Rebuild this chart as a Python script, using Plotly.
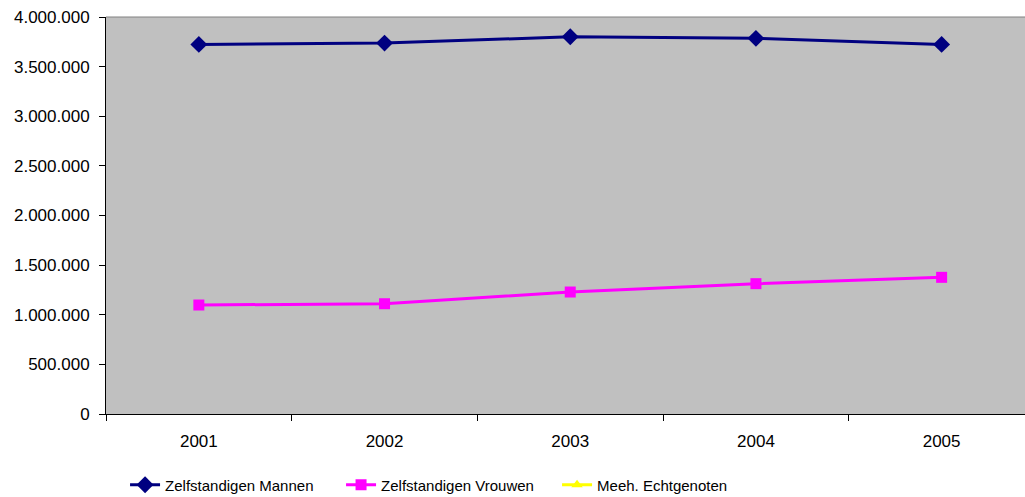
import plotly.graph_objects as go

years = ["2001", "2002", "2003", "2004", "2005"]
mannen = [3724000, 3737000, 3801000, 3785000, 3724000]
vrouwen = [1098000, 1111000, 1229000, 1313000, 1377000]
echtgenoten = [None, None, None, None, None]

fig = go.Figure()
fig.add_trace(go.Scatter(x=years, y=mannen, name="Zelfstandigen Mannen", mode="lines+markers",
                         line=dict(color="#000080", width=3),
                         marker=dict(symbol="diamond", size=13, color="#000080")))
fig.add_trace(go.Scatter(x=years, y=vrouwen, name="Zelfstandigen Vrouwen", mode="lines+markers",
                         line=dict(color="#FF00FF", width=3),
                         marker=dict(symbol="square", size=11, color="#FF00FF")))
fig.add_trace(go.Scatter(x=years, y=echtgenoten, name="Meeh. Echtgenoten", mode="lines+markers",
                         line=dict(color="#FFFF00", width=3),
                         marker=dict(symbol="triangle-up", size=10, color="#FFFF00")))

fig.update_layout(
    width=1025, height=497,
    margin=dict(l=106, r=0, t=17, b=83, autoexpand=False),
    paper_bgcolor="white", plot_bgcolor="#C0C0C0",
    separators=",.",
    font=dict(family="Liberation Sans, Arial", size=17, color="black"),
    showlegend=True,
    legend=dict(orientation="h", xref="container", x=0.122, xanchor="left",
                yref="container", y=0.024, yanchor="middle",
                font=dict(size=15), entrywidth=171, itemwidth=30,
                bgcolor="rgba(0,0,0,0)"),
    xaxis=dict(type="category", range=[-0.5, 4.449], tickson="boundaries",
               ticks="outside", ticklen=6, tickcolor="black", ticklabelstandoff=12,
               showline=True, linecolor="black", linewidth=1, automargin=False,
               showgrid=False, zeroline=False),
    yaxis=dict(range=[0, 4000000], dtick=500000, tickformat=",d",
               ticks="outside", ticklen=6, tickcolor="black", ticklabelstandoff=6,
               showline=True, linecolor="black", linewidth=1, automargin=False,
               showgrid=False, zeroline=False),
)
fig.add_shape(type="line", xref="paper", yref="paper", x0=0, x1=1, y0=1, y1=1,
              line=dict(color="#808080", width=1))

fig.write_html("out.html", config={"displayModeBar": False},
               post_script="document.body.style.margin='0';document.body.style.overflow='hidden';")
